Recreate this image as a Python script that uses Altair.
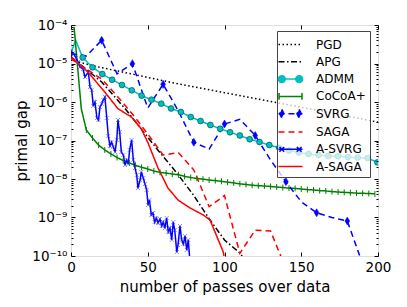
import altair as alt
import pandas as pd

names = ['PGD', 'APG', 'ADMM', 'CoCoA+', 'SVRG', 'SAGA', 'A-SVRG', 'A-SAGA']
colors = ['#000000', '#000000', '#00bfbf', '#008000', '#0000ff', '#ff0000', '#0000ff', '#ff0000']
dashes = [[1.5, 2.5], [6, 2.5, 1.5, 2.5], [1, 0], [1, 0], [6, 4], [6, 4], [1, 0], [1, 0]]
widths = [1.5, 1.5, 1.5, 1.5, 1.5, 1.5, 1.5, 2.0]

pgd_x = [0, 15, 40, 70, 100, 150, 200]
pgd_y = [1.23e-5, 8.6e-6, 5.3e-6, 2.94e-6, 1.75e-6, 7.3e-7, 3.0e-7]

apg_x = [0, 20, 36, 55.5, 68.4, 79.3, 90.2, 100, 110, 114]
apg_y = [1.48e-5, 3.31e-6, 6.2e-7, 6.4e-8, 1.52e-8, 4.07e-9, 9.1e-10, 2.6e-10, 1.2e-10, 7e-11]

admm_x = [0, 3, 7.6, 14.0, 20.4, 26.8, 33.2, 39.6, 46.0, 52.4, 58.8, 65.2, 71.6, 78.0, 84.4,
          90.8, 97.2, 103.6, 110.0, 116.4, 122.8, 129.2, 135.6, 142.0, 148.4, 154.8, 161.2,
          167.6, 174.0, 180.4, 186.8, 193.2, 199.6]
admm_y = [1.87e-5, 4.07e-5, 1.43e-5, 7.96e-6, 5.33e-6, 3.79e-6, 2.77e-6, 2.01e-6, 1.46e-6,
          1.15e-6, 9.04e-7, 6.78e-7, 5.50e-7, 4.07e-7, 3.21e-7, 2.53e-7, 2.02e-7, 1.64e-7,
          1.35e-7, 1.08e-7, 9.14e-8, 7.64e-8, 6.50e-8, 5.50e-8, 4.88e-8, 4.46e-8, 4.20e-8,
          3.95e-8, 3.9e-8, 3.7e-8, 3.6e-8, 3.5e-8, 2.7e-8]

cocoa_x = [2, 4.6, 6.7, 10, 14, 18, 22, 26, 30, 34, 38, 42, 46, 50, 54, 58, 62, 66, 70, 74, 78,
           82, 86, 90, 94, 98, 102, 106, 110, 114, 118, 122, 126, 130, 134, 138, 142, 146, 150,
           154, 158, 162, 166, 170, 174, 178, 182, 186, 190, 194, 198]
cocoa_y = [8.9e-5, 6.0e-6, 6.7e-7, 1.87e-7, 1.16e-7, 7.6e-8, 5.7e-8, 4.46e-8, 3.61e-8, 3.03e-8,
           2.61e-8, 2.27e-8, 2.01e-8, 1.82e-8, 1.61e-8, 1.49e-8, 1.42e-8, 1.35e-8, 1.29e-8,
           1.17e-8, 1.09e-8, 1.04e-8, 9.9e-9, 9.4e-9, 9.1e-9, 8.7e-9, 8.3e-9, 7.9e-9, 7.5e-9,
           7.2e-9, 6.9e-9, 6.7e-9, 6.6e-9, 6.4e-9, 6.2e-9, 6.0e-9, 5.8e-9, 5.7e-9, 5.5e-9,
           5.3e-9, 5.2e-9, 5.0e-9, 4.9e-9, 4.7e-9, 4.6e-9, 4.5e-9, 4.4e-9, 4.3e-9, 4.25e-9,
           4.2e-9, 4.1e-9]

svrg_x = [0, 10, 20, 30, 40, 50, 60, 70, 80, 90, 100, 110, 120, 130, 140, 150, 160, 170, 180, 190]
svrg_y = [1.80e-5, 1.57e-5, 4.0e-5, 5.4e-6, 9.9e-6, 7.0e-7, 2.88e-6, 5.8e-7, 8.98e-8, 6.0e-8,
          2.68e-7, 3.56e-7, 1.35e-7, 3.12e-8, 8.5e-9, 2.57e-9, 1.33e-9, 1.0e-9, 8.1e-10, 6.2e-11]

saga_x = [0, 10, 20, 30, 40, 50, 60, 70, 80, 90, 100, 110, 120, 130, 140]
saga_y = [1.33e-5, 7.2e-6, 3.96e-6, 1.43e-6, 4.88e-7, 1.48e-7, 4.2e-8, 4.82e-8, 1.71e-8,
          1.91e-9, 3.72e-9, 1.17e-10, 4.7e-10, 4.46e-10, 4.7e-11]

asvrg_x = [0, 1.5, 3.3, 4.6, 5.9, 7.8, 9.1, 11.3, 12.4, 13.5, 14.5, 15.6, 16.9, 17.9, 18.9, 20.0,
           21.0, 22.1, 23.3, 24.3, 25.4, 26.4, 27.6, 28.7, 29.8, 30.6, 31.7, 32.8, 34.1, 35.2,
           36.3, 37.3, 38.2, 39.5, 40.6, 41.7, 42.8, 43.6, 45.0, 45.8, 47.1, 48.2, 49.3, 50.2,
           51.1, 52.3, 53.4, 54.5, 55.6, 56.7, 58.0, 59.1, 60.1, 61.2, 62.3, 63.4, 64.5, 65.6,
           66.6, 67.6, 68.9, 69.7, 71.0, 72.1, 73.2, 74.3, 75.4, 76.4, 77.5]
asvrg_y = [1.99e-5, 1.87e-5, 1.39e-5, 1.09e-5, 8.1e-6, 7.2e-6, 4.46e-6, 6.0e-6, 2.45e-6, 2.05e-6,
           7.9e-7, 1.0e-6, 3.84e-7, 3.40e-7, 7.4e-7, 8.9e-7, 1.13e-6, 1.35e-6, 3.84e-7, 1.31e-7,
           7.2e-8, 9.1e-8, 6.8e-8, 5.0e-8, 1.03e-7, 3.40e-7, 1.66e-7, 5.0e-8, 4.2e-8, 2.31e-8,
           3.12e-8, 2.45e-8, 5.7e-8, 1.03e-7, 3.12e-8, 1.93e-8, 1.27e-8, 5.8e-9, 9.4e-9, 1.52e-8,
           1.06e-8, 7.4e-9, 5.2e-9, 2.11e-9, 2.85e-9, 1.16e-9, 1.31e-9, 7.6e-10, 9.7e-10, 7.2e-10,
           9.1e-10, 6.0e-10, 7.6e-10, 5.3e-10, 9.7e-10, 4.2e-10, 5.3e-10, 2.61e-10, 7.6e-10,
           4.7e-10, 1.27e-10, 1.93e-10, 6.0e-10, 2.61e-10, 2.05e-10, 3.30e-10, 1.43e-10, 2.61e-10,
           7.0e-11]

asaga_x = [0, 11, 22, 30.6, 39.3, 45.8, 50.2, 56.7, 63.2, 69.7, 77.5, 86.2, 90.6, 99.2, 101]
asaga_y = [1.50e-5, 6.0e-6, 1.82e-6, 6.7e-7, 4.07e-7, 2.02e-7, 8.6e-8, 1.93e-8, 5.8e-9, 2.85e-9,
           1.77e-9, 1.16e-9, 8.6e-10, 1.27e-10, 5e-11]

x_ticks = [0, 50, 100, 150, 200]
y_major = [1e-4, 1e-5, 1e-6, 1e-7, 1e-8, 1e-9, 1e-10]
y_minor = [m * 10.0 ** e for e in range(-10, -4) for m in range(2, 10)]
y_labels = ['10⁻⁴', '10⁻⁵', '10⁻⁶', '10⁻⁷', '10⁻⁸', '10⁻⁹', '10⁻¹⁰']

series = [
    ('PGD', pgd_x, pgd_y), ('APG', apg_x, apg_y), ('ADMM', admm_x, admm_y),
    ('CoCoA+', cocoa_x, cocoa_y), ('SVRG', svrg_x, svrg_y), ('SAGA', saga_x, saga_y),
    ('A-SVRG', asvrg_x, asvrg_y), ('A-SAGA', asaga_x, asaga_y),
]
rows = []
for name, xs, ys in series:
    for xv, yv in zip(xs, ys):
        rows.append({'series': name, 'x': xv, 'y': yv})
df = pd.DataFrame(rows)

W, H = 307, 231
FONT = 'DejaVu Sans'

xscale = alt.Scale(domain=[0, 200], nice=False, zero=False)
yscale = alt.Scale(type='log', domain=[1e-10, 1e-4], nice=False)

ylab_expr = ''
for e, lab in zip(range(-4, -11, -1), y_labels):
    ylab_expr += "round(log(datum.value)/LN10) == %d ? '%s' : " % (e, lab)
ylab_expr += "''"

y_label_axis = alt.Axis(values=y_major, labelExpr=ylab_expr, ticks=False, domain=False, grid=False,
                        labelFont=FONT, labelFontSize=13.5, labelPadding=4, labelColor='black',
                        labelOverlap=False, labelFlush=False,
                        title='primal gap', titleFont=FONT, titleFontSize=15, titleFontWeight='normal',
                        titleColor='black', titleX=-44.5, titleY=H / 2, titleAngle=270,
                        titleAlign='center', titleBaseline='alphabetic')
x_label_axis = alt.Axis(values=x_ticks, ticks=False, domain=False, grid=False, format='d',
                        labelFont=FONT, labelFontSize=13.5, labelPadding=4, labelColor='black',
                        labelFlush=False, labelOverlap=False,
                        title='number of passes over data', titleFont=FONT, titleFontSize=15,
                        titleFontWeight='normal', titleColor='black', titleX=W / 2, titleY=35,
                        titleAlign='center', titleBaseline='alphabetic')


def tick_axis(orient, offset, values, size):
    return alt.Axis(orient=orient, offset=offset, values=values, tickSize=size, ticks=True,
                    labels=False, domain=False, grid=False, title=None, tickColor='black',
                    tickWidth=1, zindex=1)


line_path = 'M-1.41,0L1.41,0'
shape_expr = (
    "datum.value === 'ADMM' ? '" + line_path +
    "M-0.62,0A0.4,0.4,0,1,1,-1.42,0A0.4,0.4,0,1,1,-0.62,0"
    "M1.42,0A0.4,0.4,0,1,1,0.62,0A0.4,0.4,0,1,1,1.42,0' : "
    "datum.value === 'CoCoA+' ? '" + line_path +
    "M-1.35,-0.4L-1.35,0.4M1.35,-0.4L1.35,0.4' : "
    "datum.value === 'SVRG' ? '" + line_path +
    "M-1.02,-0.5L-0.76,0L-1.02,0.5L-1.28,0ZM1.02,-0.5L1.28,0L1.02,0.5L0.76,0Z' : "
    "datum.value === 'A-SVRG' ? '" + line_path +
    "M-1.3,-0.28L-0.74,0.28M-1.3,0.28L-0.74,-0.28M0.74,-0.28L1.3,0.28M0.74,0.28L1.3,-0.28' : '"
    + line_path + "'"
)
dash_expr = ("datum.value === 'PGD' ? [1.5,2.5] : datum.value === 'APG' ? [6,2.5,1.5,2.5] : "
             "(datum.value === 'SVRG' || datum.value === 'SAGA') ? [6,4] : [1,0]")
fill_expr = ("datum.value === 'ADMM' ? '#00bfbf' : datum.value === 'SVRG' ? '#0000ff' : 'transparent'")
sw_expr = "datum.value === 'A-SAGA' ? 2 : 1.5"

legend = alt.Legend(orient='none', legendX=206, legendY=6, title=None, padding=4,
                    fillColor='rgba(255,255,255,0.75)', strokeColor='#444444', cornerRadius=0,
                    symbolSize=289,
                    symbolType=alt.ExprRef(expr=shape_expr),
                    symbolDash=alt.ExprRef(expr=dash_expr),
                    symbolFillColor=alt.ExprRef(expr=fill_expr),
                    symbolStrokeWidth=alt.ExprRef(expr=sw_expr),
                    labelFont=FONT, labelFontSize=12, labelColor='black', labelOffset=16,
                    rowPadding=1.3)

base = alt.Chart(df)

lines = base.mark_line(clip=True).encode(
    x=alt.X('x:Q', scale=xscale, axis=x_label_axis),
    y=alt.Y('y:Q', scale=yscale, axis=y_label_axis),
    color=alt.Color('series:N', scale=alt.Scale(domain=names, range=colors), legend=legend),
    strokeDash=alt.StrokeDash('series:N', scale=alt.Scale(domain=names, range=dashes), legend=None),
    strokeWidth=alt.StrokeWidth('series:N', scale=alt.Scale(domain=names, range=widths), legend=None),
)

admm_pts = base.transform_filter("datum.series === 'ADMM' && datum.x > 5").mark_point(
    shape='circle', filled=True, size=34, fill='#00bfbf', stroke='#003f3f', strokeWidth=0.6,
    opacity=1, clip=True
).encode(
    x=alt.X('x:Q', scale=xscale, axis=tick_axis('top', -H, x_ticks, 4)),
    y=alt.Y('y:Q', scale=yscale, axis=tick_axis('right', -W, y_major, 4)),
)

cocoa_pts = base.transform_filter("datum.series === 'CoCoA+' && datum.x >= 10").mark_point(
    shape='M0,-1L0,1', size=36, filled=False, stroke='#008000', strokeWidth=1, opacity=1, clip=True
).encode(
    x=alt.X('x:Q', scale=xscale, axis=tick_axis('bottom', -H, x_ticks, 4)),
    y=alt.Y('y:Q', scale=yscale, axis=tick_axis('right', -W, y_minor, 2)),
)

svrg_pts = base.transform_filter("datum.series === 'SVRG' && datum.x % 20 === 0").mark_point(
    shape='M0,-1L0.6,0L0,1L-0.6,0Z', size=64, filled=True, fill='#0000ff', stroke='#0000ff',
    strokeWidth=0.5, opacity=1, clip=True
).encode(
    x=alt.X('x:Q', scale=xscale, axis=None),
    y=alt.Y('y:Q', scale=yscale, axis=tick_axis('left', -W, y_major, 4)),
)

asvrg_pts = base.transform_filter("datum.series === 'A-SVRG'").mark_point(
    shape='M-1,-1L1,1M-1,1L1,-1', size=16, filled=False, stroke='#3333ff', strokeWidth=0.8,
    opacity=0.7, clip=True
).encode(
    x=alt.X('x:Q', scale=xscale, axis=None),
    y=alt.Y('y:Q', scale=yscale, axis=tick_axis('left', -W, y_minor, 2)),
)

chart = alt.layer(lines, admm_pts, cocoa_pts, svrg_pts, asvrg_pts).resolve_axis(
    x='independent', y='independent'
).properties(
    width=W, height=H,
    padding={'left': 63, 'top': 17, 'right': 20, 'bottom': 40},
    autosize=alt.AutoSizeParams(type='none'),
    background='white',
).configure_view(stroke='black', strokeWidth=1).configure(font=FONT)

chart.save('out.html', embed_options={'renderer': 'svg', 'actions': False})
